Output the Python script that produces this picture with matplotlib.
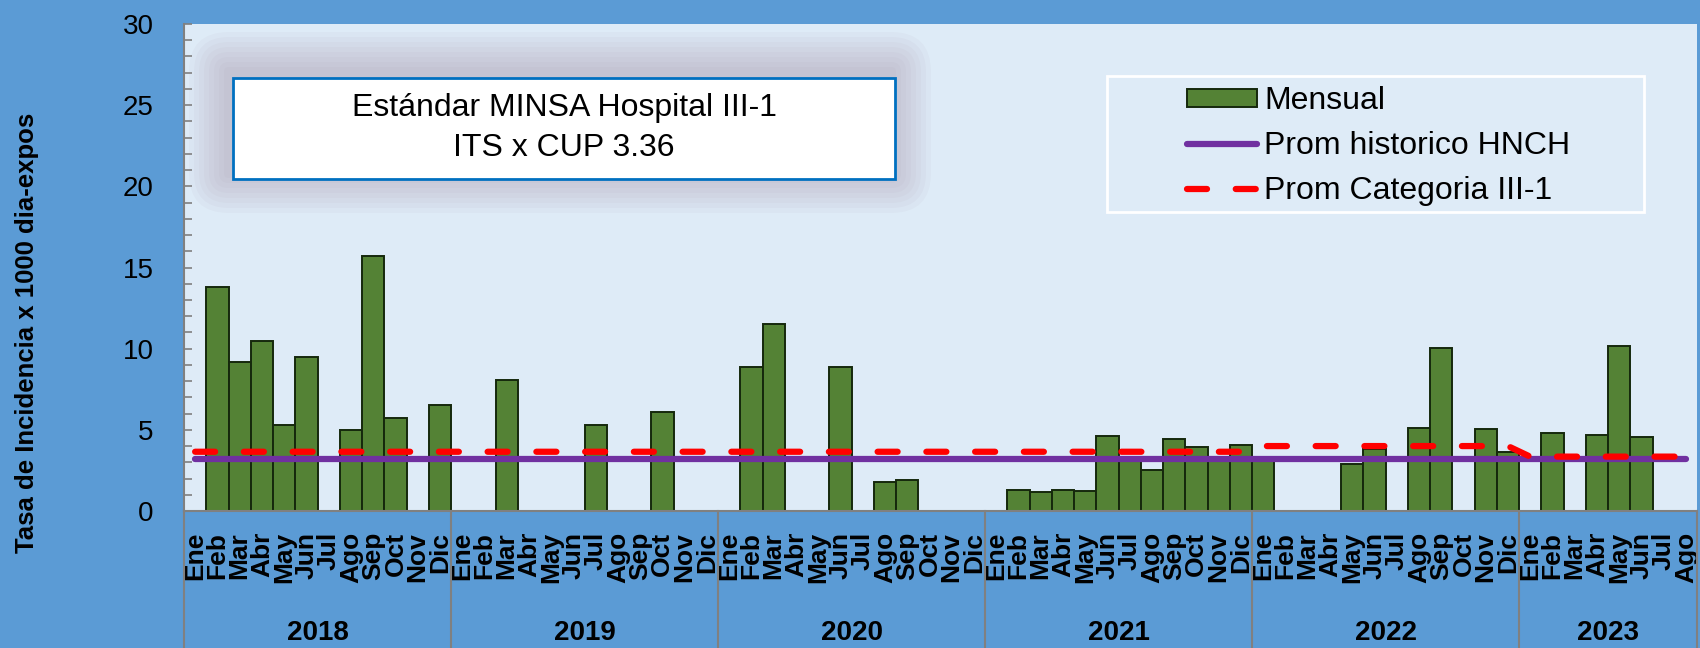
import numpy as np
import matplotlib.pyplot as plt
from matplotlib.patches import Rectangle, FancyBboxPatch
from matplotlib.transforms import IdentityTransform, blended_transform_factory

plt.rcParams['font.family'] = ['Liberation Sans', 'DejaVu Sans']

nan = np.nan
anios = ['2018', '2019', '2020', '2021', '2022', '2023']
meses = ['Ene', 'Feb', 'Mar', 'Abr', 'May', 'Jun', 'Jul', 'Ago', 'Sep', 'Oct', 'Nov', 'Dic']

# tasa mensual por año (vacío = sin casos)
mensual_2018 = [nan, 13.8, 9.2, 10.5, 5.3, 9.5, nan, 5.0, 15.7, 5.7, nan, 6.5]
mensual_2019 = [nan, nan, 8.1, nan, nan, nan, 5.3, nan, nan, 6.1, nan, nan]
mensual_2020 = [nan, 8.9, 11.5, nan, nan, 8.9, nan, 1.8, 1.9, nan, nan, nan]
mensual_2021 = [nan, 1.3, 1.15, 1.3, 1.25, 4.6, 3.3, 2.5, 4.45, 3.95, 3.3, 4.05]
mensual_2022 = [3.3, nan, nan, nan, 2.9, 3.8, nan, 5.1, 10.05, nan, 5.05, 3.65]
mensual_2023 = [nan, 4.8, nan, 4.7, 10.15, 4.55, nan, nan]

prom_historico = 3.22
prom_categoria = [3.65, 3.65, 3.65, 3.65, 4.0, 3.35]   # por año

series = [mensual_2018, mensual_2019, mensual_2020, mensual_2021, mensual_2022, mensual_2023]
mensual = sum(series, [])
n = len(mensual)
x = np.arange(n)
etiquetas = [meses[i % 12] for i in range(n)]
linea_cat = []
for s, v in zip(series, prom_categoria):
    linea_cat += [v] * len(s)

W, H = 1700, 648
fig = plt.figure(figsize=(W / 100, H / 100), dpi=100, facecolor='#5B9BD5')
ax = fig.add_axes([184 / W, 1 - 511 / H, (1697 - 184) / W, (511 - 24) / H])
ax.set_facecolor('#DEEBF7')

barras = ax.bar(x, mensual, width=1.0, color='#548235', edgecolor='#15280C', linewidth=1.4,
                zorder=2, label='Mensual')
l_hist, = ax.plot(x, [prom_historico] * n, color='#7030A0', lw=4.5, solid_capstyle='round',
                  zorder=3, label='Prom historico HNCH')
l_cat, = ax.plot(x, linea_cat, color='#FF0000', lw=4.5, dashes=(3.2, 4.6), dash_capstyle='round',
                 zorder=4, label='Prom Categoria III-1')

ax.set_xlim(-0.5, n - 0.5)
ax.set_ylim(0, 30)
ax.set_yticks(range(0, 31, 5))
ax.set_yticks(range(0, 31), minor=True)
ax.tick_params(axis='y', which='both', direction='in', length=6, width=1.2,
               color='#808080', labelsize=20, pad=22)
ax.set_xticks(x)
ax.set_xticklabels(etiquetas, rotation=90, fontsize=19, fontweight='bold')
ax.tick_params(axis='x', length=0, pad=15)
for s in ['top', 'right']:
    ax.spines[s].set_visible(False)
ax.spines['left'].set_color('#808080')
ax.spines['bottom'].set_color('#808080')
ax.spines['left'].set_linewidth(1.5)
ax.spines['bottom'].set_linewidth(1.5)

# separadores y etiquetas de año
tr = blended_transform_factory(ax.transData, ax.transAxes)
bajo = -(H - 511) / (511 - 24)
inicio = -0.5
for s, anio in zip(series, anios):
    fin = inicio + len(s)
    ax.plot([inicio, inicio], [0, bajo], transform=tr, color='#808080', lw=1.5, clip_on=False)
    ax.text((inicio + fin) / 2, -(633 - 511) / (511 - 24), anio, transform=tr,
            ha='center', va='center', fontsize=20, fontweight='bold')
    inicio = fin
ax.plot([inicio, inicio], [0, bajo], transform=tr, color='#808080', lw=1.5, clip_on=False)

fig.text(27 / W, 1 - 333 / H, 'Tasa de Incidencia x 1000 dia-expos', rotation=90,
         ha='center', va='center', fontsize=18.5, fontweight='bold')

# cuadro del estándar con sombra
idt = IdentityTransform()
bx0, by0, bw, bh = 233, H - 179, 662, 101
for k in range(1, 9):
    p = 5 * k
    fig.add_artist(FancyBboxPatch((bx0 - p - 4, by0 - p + 6), bw + 2 * p, bh + 2 * p,
                                  boxstyle=f'round,pad=0,rounding_size={p}',
                                  fc='#A0889C', ec='none', alpha=0.055, transform=idt))
fig.add_artist(Rectangle((bx0, by0), bw, bh, fc='white', ec='#0070C0', lw=2, transform=idt))
fig.text(564 / W, 1 - 108 / H, 'Estándar MINSA Hospital III-1', ha='center', va='center', fontsize=23)
fig.text(564 / W, 1 - 148 / H, 'ITS x CUP 3.36', ha='center', va='center', fontsize=23)

# leyenda
fig.add_artist(Rectangle((1107, H - 212), 537, 136, fc='none', ec='white', lw=2, transform=idt))
ax.legend([barras, l_hist, l_cat], ['Mensual', 'Prom historico HNCH', 'Prom Categoria III-1'],
          loc='upper left', bbox_to_anchor=(1187, H - 86), bbox_transform=idt,
          frameon=False, borderpad=0, borderaxespad=0, fontsize=23, handlelength=2.19,
          handleheight=0.5, handletextpad=0.22, labelspacing=0.47)

fig.savefig('out.png', dpi=100, facecolor=fig.get_facecolor())
